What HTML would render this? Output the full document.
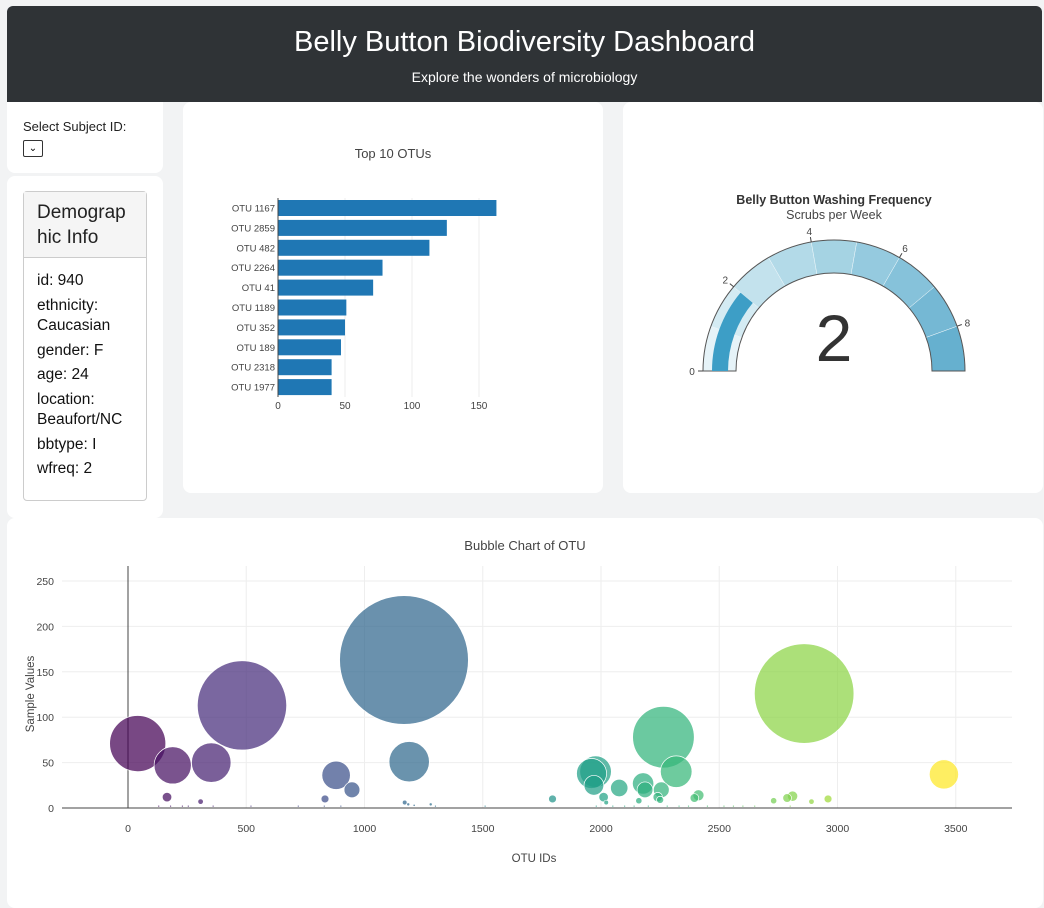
<!DOCTYPE html>
<html><head><meta charset="utf-8">
<style>
*{box-sizing:border-box;margin:0;padding:0}
body{width:1044px;height:899px;background:#f2f3f4;font-family:"Liberation Sans",Arial,sans-serif;position:relative;overflow:hidden}
.card{position:absolute;background:#fff;border-radius:8px}
#header{position:absolute;left:7px;top:6px;width:1035px;height:96px;background:#2f3336;border-radius:6px 6px 0 0;color:#fff;text-align:center}
#header h1{font-weight:normal;font-size:29px;margin-top:20px}
#header p{font-size:14px;margin-top:10px}
svg text{font-family:"Liberation Sans",Arial,sans-serif}
.di{margin-bottom:4px}
</style></head><body>
<div id="header">
<h1>Belly Button Biodiversity Dashboard</h1>
<p>Explore the wonders of microbiology</p>
</div>
<div class="card" style="left:7px;top:102px;width:156px;height:71px;border-radius:0 0 8px 8px">
<div style="position:absolute;left:16px;top:17px;font-size:13px;color:#222">Select Subject ID:</div>
<div style="position:absolute;left:16px;top:38px;width:20px;height:17px;border:1px solid #333;border-radius:2px;font-size:10px;text-align:center;line-height:15px">&#8964;</div>
</div>
<div class="card" style="left:7px;top:176px;width:156px;height:342px">
<div style="position:absolute;left:16px;top:15px;width:124px;height:310px;border:1px solid #ccc;border-radius:4px">
<div style="height:66px;background:#f5f5f5;border-bottom:1px solid #ccc;padding:8px 0 0 13px;font-size:19px;line-height:25px;color:#222">Demograp<br>hic Info</div>
<div style="padding:13px 0 0 13px;font-size:15.5px;line-height:20.5px;color:#111">
<div class="di">id: 940</div>
<div class="di">ethnicity:<br>Caucasian</div>
<div class="di">gender: F</div>
<div class="di">age: 24</div>
<div class="di">location:<br>Beaufort/NC</div>
<div class="di">bbtype: I</div>
<div>wfreq: 2</div>
</div></div></div>
<div class="card" style="left:183px;top:102px;width:420px;height:391px"></div>
<div class="card" style="left:623px;top:102px;width:420px;height:391px"></div>
<div class="card" style="left:7px;top:518px;width:1036px;height:390px"></div>
<svg id="svg" width="1044" height="899" style="position:absolute;left:0;top:0"></svg>
<script>
const barLabels=["OTU 1167","OTU 2859","OTU 482","OTU 2264","OTU 41","OTU 1189","OTU 352","OTU 189","OTU 2318","OTU 1977"];
const barValues=[163,126,113,78,71,51,50,47,40,40];
const barTicks=[0,50,100,150];
const gaugeValue=2;
const gaugeTicks=[0,2,4,6,8];
const bubbleIds=[41,189,352,482,1167,1189,2264,2318,1977,2859,3450,880,947,165,307,833,1795,1960,1970,2011,2022,2077,2178,2186,2160,2255,2240,2250,2395,2412,2730,2787,2810,2890,2960,1170,1185,1280,130,180,230,255,360,520,720,830,900,1210,1300,1510,1980,2050,2100,2140,2200,2280,2330,2370,2450,2520,2560,2600,2650,2800];
const bubbleValues=[71,47,50,113,163,51,78,40,40,126,37,36,20,12,7,10,10,38,25,12,6,22,27,20,8,20,12,9,11,14,8,11,13,7,10,6,4,4,2,2,2,2,2,2,2,2,2,3,2,2,2,2,2,2,2,2,2,2,2,2,2,2,2,2];
const bubbleXTicks=[0,500,1000,1500,2000,2500,3000,3500];
const bubbleYTicks=[0,50,100,150,200,250];
const svg=document.getElementById('svg');const NS='http://www.w3.org/2000/svg';
function mk(t,a,p){const e=document.createElementNS(NS,t);for(const k in a)e.setAttribute(k,a[k]);(p||svg).appendChild(e);return e;}
function tx(x,y,s,a){const e=mk('text',Object.assign({x:x,y:y},a));e.textContent=s;return e;}
// bar chart
const bx=v=>278+v*1.34, by=i=>208+i*19.9;
let t=tx(393,158,"Top 10 OTUs",{'font-size':13,'text-anchor':'middle',fill:'#444'});


barTicks.forEach(v=>{if(v>0){const l=mk('line',{x1:bx(v),x2:bx(v),y1:198,y2:397,stroke:'#eee'});}
const e=tx(bx(v),409,v,{'font-size':10,'text-anchor':'middle',fill:'#444'});});
barValues.forEach((v,i)=>{const r=mk('rect',{x:278,y:by(i)-8,width:bx(v)-278,height:16,fill:'#1f77b4'});


const e=tx(275,by(i)+3.5,barLabels[i],{'font-size':9.5,'text-anchor':'end',fill:'#444'});});
const ax=mk('line',{x1:278,x2:278,y1:198,y2:397,stroke:'#444'});
// gauge
const cx=834,cy=371,R=131,Ri=98,gmax=9;
const ang=v=>Math.PI*(1-v/gmax);
function arc(r1,r2,v1,v2){const a1=ang(v1),a2=ang(v2);
const p=(r,a)=>(cx+r*Math.cos(a)).toFixed(2)+','+(cy-r*Math.sin(a)).toFixed(2);
return `M${p(r2,a1)} A${r2},${r2} 0 0 1 ${p(r2,a2)} L${p(r1,a2)} A${r1},${r1} 0 0 0 ${p(r1,a1)}Z`;}
const stepCols=['#e6f3f8','#d4ebf3','#c3e2ed','#b3dae8','#a5d3e3','#95cadf','#86c2da','#75b8d4','#66b0cf'];
for(let i=0;i<9;i++){const p=mk('path',{d:arc(Ri,R,i,i+1),fill:stepCols[i],stroke:'#f0f8fb','stroke-width':0.5});}
const out=mk('path',{d:arc(Ri,R,0,gmax),fill:'none',stroke:'#555','stroke-width':1});
const gb=mk('path',{d:arc(106,122,0,gaugeValue),fill:'#3d9ec6'});
gaugeTicks.forEach(v=>{const a=ang(v);const l=mk('line',{x1:cx+R*Math.cos(a),y1:cy-R*Math.sin(a),x2:cx+(R+5)*Math.cos(a),y2:cy-(R+5)*Math.sin(a),stroke:'#444'});
const e=tx(cx+(R+11)*Math.cos(a),cy-(R+11)*Math.sin(a)+4,v,{'font-size':10,'text-anchor':'middle',fill:'#444'});});
t=tx(834,204,"Belly Button Washing Frequency",{'font-size':12.5,'font-weight':'bold','text-anchor':'middle',fill:'#333'});
t=tx(834,219,"Scrubs per Week",{'font-size':12.5,'text-anchor':'middle',fill:'#444'});
t=tx(834,361,gaugeValue,{'font-size':66,'text-anchor':'middle',fill:'#333'});
// bubble
const X=v=>128+v*0.2365, Y=v=>808-v*0.908;
t=tx(525,550,"Bubble Chart of OTU",{'font-size':13,'text-anchor':'middle',fill:'#444'});
bubbleXTicks.forEach(v=>{if(v>0){const l=mk('line',{x1:X(v),x2:X(v),y1:566,y2:808,stroke:'#eee'});}
const e=tx(X(v),832,v,{'font-size':10.5,'text-anchor':'middle',fill:'#444'});});
bubbleYTicks.forEach(v=>{if(v>0){const l=mk('line',{x1:62,x2:1012,y1:Y(v),y2:Y(v),stroke:'#eee'});}
const e=tx(54,Y(v)+4,v,{'font-size':10.5,'text-anchor':'end',fill:'#444'});});
let l=mk('line',{x1:X(0),x2:X(0),y1:566,y2:808,stroke:'#444'});
const vir=[[68,1,84],[72,40,120],[62,73,137],[49,104,142],[38,130,142],[31,158,137],[53,183,121],[109,205,89],[180,222,44],[253,231,37]];
function viridis(t){t=Math.max(0,Math.min(1,t))*9;const i=Math.min(8,Math.floor(t)),f=t-i;const a=vir[i],b=vir[i+1];return `rgb(${a.map((c,k)=>Math.round(c+(b[k]-c)*f)).join(',')})`;}
const mn=Math.min(...bubbleIds),mx=Math.max(...bubbleIds);
const order=bubbleValues.map((v,i)=>i).sort((a,b)=>bubbleValues[b]-bubbleValues[a]);
order.forEach(i=>{const c=mk('circle',{cx:X(bubbleIds[i]),cy:Y(bubbleValues[i]),r:Math.max(1,bubbleValues[i]*0.395),fill:viridis((bubbleIds[i]-mn)/(mx-mn)),'fill-opacity':0.72,stroke:'#fff','stroke-width':0.7});

});
l=mk('line',{x1:62,x2:1012,y1:808,y2:808,stroke:'#444'});
t=tx(534,862,"OTU IDs",{'font-size':11.5,'text-anchor':'middle',fill:'#444'});
t=tx(0,0,"Sample Values",{'font-size':11.5,'text-anchor':'middle',fill:'#444',transform:'translate(34,694) rotate(-90)'});
</script>
</body></html>
